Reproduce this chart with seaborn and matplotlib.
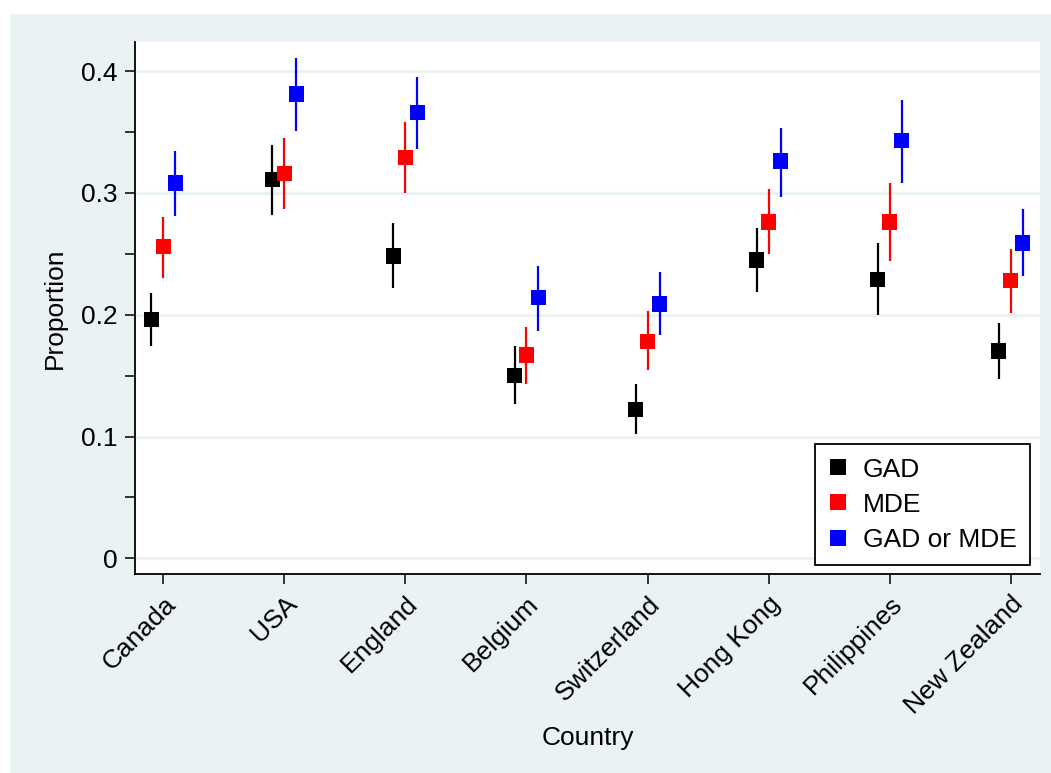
import matplotlib
matplotlib.use("Agg")
import matplotlib.pyplot as plt
import matplotlib.patches as mpatches
from matplotlib.ticker import MultipleLocator
import seaborn as sns
import pandas as pd
import numpy as np

countries = ["Canada", "USA", "England", "Belgium", "Switzerland",
             "Hong Kong", "Philippines", "New Zealand"]
series = ["GAD", "MDE", "GAD or MDE"]

gad_est = [0.196, 0.311, 0.248, 0.150, 0.122, 0.245, 0.229, 0.170]
gad_lo = [0.174, 0.282, 0.222, 0.127, 0.102, 0.219, 0.200, 0.147]
gad_hi = [0.218, 0.339, 0.275, 0.174, 0.143, 0.271, 0.259, 0.193]

mde_est = [0.256, 0.316, 0.329, 0.167, 0.178, 0.276, 0.276, 0.228]
mde_lo = [0.230, 0.287, 0.300, 0.143, 0.155, 0.250, 0.244, 0.201]
mde_hi = [0.280, 0.345, 0.358, 0.190, 0.203, 0.303, 0.308, 0.254]

any_est = [0.308, 0.381, 0.366, 0.214, 0.209, 0.326, 0.343, 0.259]
any_lo = [0.281, 0.351, 0.336, 0.187, 0.183, 0.297, 0.308, 0.232]
any_hi = [0.334, 0.411, 0.395, 0.240, 0.235, 0.353, 0.376, 0.287]

colors = ["#000000", "#FF0000", "#0000FF"]
bg = "#EAF2F3"

rows = []
for s_i, (name, est, lo, hi) in enumerate(zip(
        series, [gad_est, mde_est, any_est], [gad_lo, mde_lo, any_lo],
        [gad_hi, mde_hi, any_hi])):
    for c_i, c in enumerate(countries):
        rows.append({"Country": c, "cidx": c_i, "Series": name,
                     "sidx": s_i, "est": est[c_i], "lo": lo[c_i], "hi": hi[c_i]})
df = pd.DataFrame(rows)
offset = 0.099
df["xpos"] = df["cidx"] + (df["sidx"] - 1) * offset

sns.set_style("white")
plt.rcParams["font.family"] = ["Liberation Sans", "DejaVu Sans"]
plt.rcParams["text.color"] = "black"
plt.rcParams["axes.labelcolor"] = "black"
plt.rcParams["xtick.color"] = "black"
plt.rcParams["ytick.color"] = "black"

FS = 19

fig = plt.figure(figsize=(10.51, 7.73), dpi=100)
fig.patch.set_facecolor("white")
fig.patches.append(mpatches.Rectangle((10 / 1051, 0), 1 - 10 / 1051, 1 - 14 / 773,
                                      transform=fig.transFigure,
                                      facecolor=bg, edgecolor="none", zorder=-10))
ax = fig.add_axes([135 / 1051, 1 - 574.3 / 773, 905 / 1051, 532.6 / 773])
ax.set_facecolor("white")

# grid
for yv in [0, 0.1, 0.2, 0.3, 0.4]:
    ax.axhline(yv, color=bg, lw=2.2, zorder=0)

# confidence intervals
for name, col in zip(series, colors):
    sub = df[df["Series"] == name]
    ax.vlines(sub["xpos"], sub["lo"], sub["hi"], colors=col, lw=1.6, zorder=2)

sns.scatterplot(data=df, x="xpos", y="est", hue="Series", hue_order=series,
                palette=colors, marker="s", s=125, linewidth=0, ax=ax,
                zorder=3, legend=False)

ax.set_xlim(-0.234, 7.242)
ax.set_ylim(-0.0131, 0.4241)
ax.set_xticks(range(len(countries)))
ax.set_xticklabels(countries, rotation=45, ha="right", rotation_mode="anchor")
ax.set_yticks([0, 0.1, 0.2, 0.3, 0.4])
ax.set_yticklabels(["0", "0.1", "0.2", "0.3", "0.4"])
ax.yaxis.set_minor_locator(MultipleLocator(0.05))
ax.tick_params(axis="both", which="both", direction="out", length=7.5,
               width=1.1, color="black", labelsize=FS, labelcolor="black", pad=5)
ax.tick_params(left=True, bottom=True, which="both")
ax.tick_params(axis="x", which="minor", bottom=False)

for sp in ["top", "right"]:
    ax.spines[sp].set_visible(False)
for sp in ["left", "bottom"]:
    ax.spines[sp].set_color("black")
    ax.spines[sp].set_linewidth(1.3)

ax.set_xlabel("Country", fontsize=FS, labelpad=5, color="black")
ax.set_ylabel("Proportion", fontsize=FS, labelpad=10, color="black")

handles = [plt.Line2D([], [], marker="s", color=c, linestyle="none",
                      markersize=11, markeredgewidth=0) for c in colors]
leg = ax.legend(handles, series, loc="lower right", bbox_to_anchor=(0.989, 0.0175),
                borderaxespad=0, frameon=True, fancybox=False, fontsize=FS,
                handlelength=0.7, handletextpad=0.6, labelspacing=0.42,
                borderpad=0.5)
for t in leg.get_texts():
    t.set_color("black")
leg.get_frame().set_edgecolor("black")
leg.get_frame().set_linewidth(1.3)
leg.get_frame().set_facecolor("white")
leg.get_frame().set_alpha(1)

fig.savefig("out.png", dpi=100, facecolor=fig.get_facecolor())
